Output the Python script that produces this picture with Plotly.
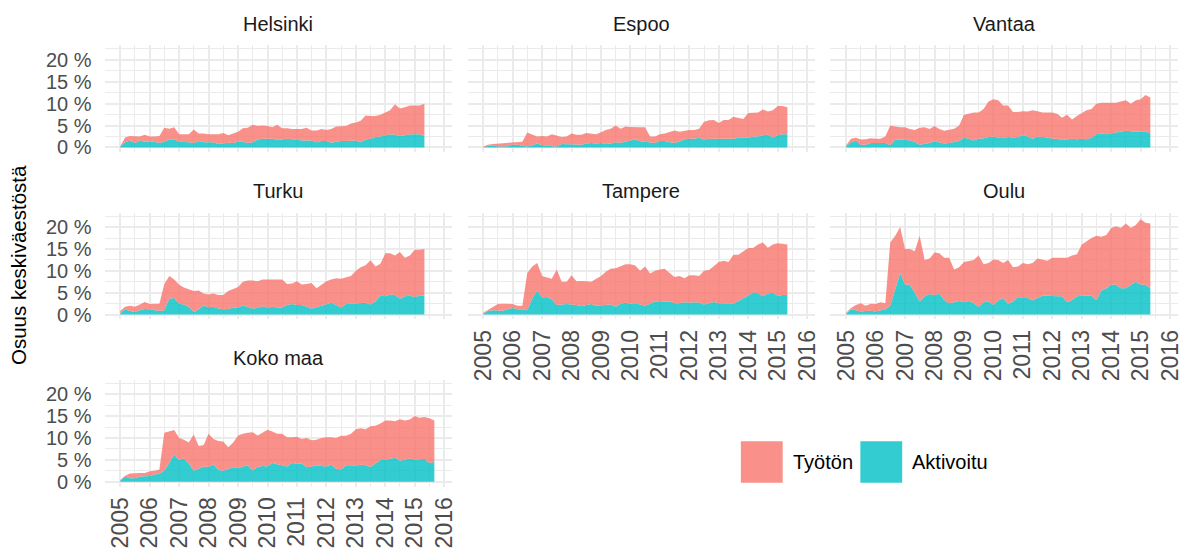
import plotly.graph_objects as go
import pandas as pd

# ---------------- data (share of mid-year population, %) ----------------
kunnat = ["Helsinki", "Espoo", "Vantaa", "Turku", "Tampere", "Oulu", "Koko maa"]
sarjat = ["Työtön", "Aktivoitu"]
vuodet = [str(v) for v in range(2005, 2017)]
paivat = pd.date_range("2005-01-01", periods=65, freq="2MS")

# total height of the stack (Työtön + Aktivoitu)
helsinki_yht = [0.3, 2.3, 2.6, 2.6, 2.5, 2.9, 2.5, 2.5, 2.6,
                4.5, 4.3, 4.6, 3.0, 3.0, 3.0, 4.1, 3.2, 3.2,
                3.0, 3.0, 3.0, 3.3, 2.8, 3.2, 3.6, 4.4, 4.5,
                5.2, 4.9, 5.0, 4.9, 4.6, 5.2, 4.4, 4.4, 4.2,
                4.2, 4.2, 4.5, 3.9, 3.9, 4.2, 4.0, 4.2, 4.8,
                4.8, 4.9, 5.5, 5.7, 6.1, 7.3, 7.2, 7.2, 7.5,
                8.0, 8.5, 9.9, 8.9, 9.2, 9.6, 9.6, 9.6, 10.0]
helsinki_akt = [0.2, 1.2, 1.6, 1.0, 1.6, 1.3, 1.3, 1.3, 1.0,
                1.3, 1.8, 1.8, 1.3, 1.3, 1.2, 1.0, 1.5, 1.2,
                1.2, 1.2, 0.8, 1.0, 1.1, 1.0, 1.3, 1.3, 1.0,
                1.2, 1.8, 2.0, 2.0, 2.0, 1.7, 1.8, 2.0, 1.9,
                1.9, 1.6, 1.6, 1.6, 1.2, 1.5, 1.5, 1.1, 1.3,
                1.5, 1.5, 1.5, 1.6, 1.2, 1.8, 2.0, 2.4, 2.5,
                2.7, 3.0, 2.9, 2.6, 2.8, 3.0, 3.0, 3.0, 2.7]

espoo_yht = [0.2, 0.6, 0.8, 0.9, 0.9, 1.0, 1.2, 1.3, 1.3,
             3.4, 2.9, 2.5, 2.6, 2.5, 3.0, 2.7, 2.4, 2.5,
             3.2, 2.9, 2.9, 3.3, 3.1, 3.0, 3.5, 4.0, 4.3,
             5.0, 4.3, 4.8, 4.7, 4.6, 4.6, 4.6, 2.5, 2.5,
             3.0, 3.2, 3.5, 3.9, 3.6, 3.8, 4.0, 4.0, 4.3,
             5.9, 6.2, 6.3, 5.6, 6.3, 6.3, 7.0, 6.7, 6.5,
             7.9, 8.0, 8.0, 8.7, 8.2, 8.5, 9.5, 9.5, 9.2]
espoo_akt = [0.1, 0.3, 0.5, 0.2, 0.2, 0.3, 0.6, 0.6, 0.4,
             0.2, 0.5, 0.9, 0.5, 0.5, 0.3, 0.2, 0.8, 0.8,
             0.8, 0.7, 0.6, 0.9, 1.0, 0.9, 1.0, 0.8, 0.9,
             1.2, 1.1, 1.4, 1.6, 1.8, 1.4, 1.3, 1.2, 1.0,
             1.5, 1.5, 1.2, 1.1, 1.3, 1.9, 2.0, 2.0, 2.2,
             1.8, 2.0, 2.0, 1.9, 2.0, 2.0, 2.0, 2.2, 2.2,
             2.2, 2.5, 2.5, 2.8, 2.9, 2.3, 2.8, 3.0, 3.0]

vantaa_yht = [0.5, 2.0, 2.2, 1.8, 1.9, 2.1, 2.0, 2.0, 2.5,
              5.0, 4.8, 4.6, 4.6, 4.2, 4.0, 4.5, 4.6, 4.2,
              4.9, 4.2, 3.8, 4.0, 4.3, 5.0, 7.5, 7.7, 8.0,
              8.0, 8.8, 10.5, 11.0, 10.8, 9.6, 9.6, 8.1, 8.1,
              8.3, 8.2, 8.5, 8.3, 8.0, 8.0, 8.0, 7.7, 6.8,
              7.5, 6.4, 7.2, 7.8, 8.5, 8.8, 10.0, 10.2, 10.2,
              10.1, 10.2, 10.5, 10.8, 10.0, 10.8, 11.0, 12.0, 11.4]
vantaa_akt = [0.3, 1.2, 1.6, 0.6, 0.6, 1.0, 1.0, 1.0, 1.0,
              0.5, 1.8, 1.8, 1.8, 1.6, 1.3, 0.6, 0.8, 1.0,
              1.4, 1.2, 0.9, 1.0, 1.2, 1.5, 2.2, 2.0, 1.6,
              2.0, 2.1, 2.4, 2.5, 2.2, 2.1, 2.4, 2.3, 2.4,
              2.8, 2.5, 2.0, 2.5, 2.4, 2.3, 2.0, 2.0, 1.7,
              1.8, 2.0, 1.9, 2.0, 1.9, 2.2, 3.0, 3.2, 3.0,
              3.2, 3.5, 3.6, 3.8, 3.7, 3.6, 3.6, 3.7, 3.2]

turku_yht = [0.8, 1.8, 2.0, 1.8, 2.3, 2.9, 2.4, 2.5, 2.5,
             7.0, 8.8, 8.0, 6.8, 6.2, 5.8, 5.4, 5.5, 4.8,
             4.6, 4.8, 4.5, 4.5, 5.4, 5.9, 6.3, 7.5, 7.8,
             7.8, 7.6, 8.0, 8.0, 8.0, 8.0, 8.0, 7.0, 7.1,
             7.6, 6.9, 7.0, 7.2, 6.0, 6.8, 7.6, 8.0, 8.3,
             8.2, 8.5, 8.8, 10.0, 10.8, 11.3, 12.4, 11.0, 11.6,
             14.0, 14.0, 13.5, 14.3, 13.0, 13.5, 14.8, 14.8, 15.0]
turku_akt = [0.3, 1.2, 0.8, 0.6, 1.0, 1.3, 1.2, 1.0, 0.8,
             1.0, 3.6, 3.8, 2.5, 2.3, 1.8, 0.6, 1.2, 2.1,
             1.7, 1.8, 1.4, 1.2, 1.3, 1.6, 1.6, 2.1, 1.8,
             1.4, 1.5, 1.9, 1.6, 1.8, 1.6, 1.6, 2.2, 2.4,
             2.2, 2.2, 1.8, 1.4, 1.7, 2.0, 2.4, 2.7, 2.2,
             1.6, 2.4, 2.5, 2.5, 2.7, 2.7, 2.3, 3.0, 4.3,
             4.2, 4.6, 4.5, 3.6, 4.2, 4.3, 4.0, 4.3, 4.3]

tampere_yht = [0.4, 1.0, 1.6, 2.4, 2.5, 2.4, 2.4, 2.0, 2.0,
               9.5, 11.0, 11.8, 8.8, 8.5, 8.2, 10.3, 7.5, 7.5,
               9.0, 7.6, 7.7, 7.6, 7.5, 8.2, 8.8, 9.8, 10.5,
               10.6, 11.0, 11.5, 11.5, 11.2, 10.0, 11.0, 9.4, 10.0,
               10.3, 10.5, 9.5, 8.6, 8.8, 8.3, 9.0, 9.0, 8.8,
               10.0, 10.2, 11.2, 12.0, 12.3, 12.0, 13.7, 13.7, 14.5,
               15.2, 15.2, 16.0, 16.5, 15.3, 16.0, 16.3, 16.2, 16.0]
tampere_akt = [0.2, 0.8, 1.0, 1.0, 0.9, 1.2, 1.5, 1.2, 1.2,
               1.0, 3.7, 5.5, 3.9, 4.0, 3.5, 2.2, 2.3, 2.4,
               2.3, 2.2, 1.9, 2.1, 2.4, 2.0, 2.1, 2.2, 2.3,
               1.8, 2.5, 2.7, 2.5, 2.6, 2.3, 2.0, 2.5, 3.0,
               2.9, 2.9, 3.0, 2.6, 2.6, 2.8, 2.7, 2.8, 2.7,
               2.3, 2.6, 2.9, 2.6, 2.6, 2.6, 2.5, 3.1, 3.8,
               4.3, 5.1, 4.9, 4.2, 4.8, 5.0, 4.3, 4.5, 4.5]

oulu_yht = [0.4, 1.5, 2.2, 2.6, 2.0, 2.5, 2.4, 2.8, 2.6,
            16.5, 18.0, 20.0, 15.0, 15.0, 14.5, 18.0, 12.5, 12.8,
            14.2, 14.0, 13.0, 13.0, 10.3, 10.8, 12.0, 12.2, 12.5,
            13.5, 11.5, 11.8, 12.6, 12.5, 11.8, 12.5, 10.8, 11.0,
            11.8, 11.5, 11.8, 12.8, 12.5, 12.3, 13.0, 13.0, 13.0,
            13.0, 13.5, 13.8, 16.0, 16.8, 17.5, 18.0, 17.8, 18.2,
            19.8, 20.2, 19.8, 20.8, 19.8, 20.5, 21.8, 21.0, 20.8]
oulu_akt = [0.2, 1.2, 1.0, 0.7, 0.8, 0.9, 0.7, 1.0, 1.2,
            2.0, 6.0, 9.5, 6.8, 6.8, 5.0, 3.0, 4.2, 4.7,
            4.4, 4.8, 3.3, 2.6, 2.8, 3.1, 2.8, 3.1, 2.6,
            1.8, 2.8, 3.0, 2.2, 3.2, 3.8, 2.4, 3.0, 4.0,
            3.8, 3.8, 3.3, 3.8, 4.3, 4.3, 4.2, 4.2, 4.2,
            2.8, 3.3, 4.2, 4.3, 4.3, 4.3, 3.3, 5.5, 6.0,
            6.9, 6.8, 6.0, 6.0, 6.8, 7.5, 6.9, 6.8, 6.0]

koko_maa_yht = [0.4, 1.4, 1.9, 2.0, 2.0, 2.0, 2.4, 2.5, 2.8,
                11.2, 11.5, 11.8, 10.0, 9.6, 9.0, 10.8, 8.2, 8.4,
                11.0, 9.8, 9.3, 9.2, 7.9, 9.0, 10.6, 11.0, 11.2,
                11.3, 10.6, 11.2, 11.9, 11.5, 11.0, 11.0, 10.2, 10.2,
                10.3, 9.8, 10.0, 9.5, 9.6, 10.0, 10.2, 10.2, 10.0,
                10.5, 10.5, 11.0, 12.0, 12.2, 12.0, 12.7, 12.8, 13.3,
                14.0, 14.0, 13.8, 14.3, 14.0, 14.2, 15.0, 14.6, 14.8,
                14.5, 14.0]
koko_maa_akt = [0.3, 1.2, 0.8, 0.8, 1.2, 1.2, 1.3, 1.6, 1.9,
                2.5, 4.5, 6.2, 5.0, 5.3, 4.2, 2.5, 3.0, 3.5,
                3.4, 4.0, 2.7, 2.5, 2.9, 3.3, 3.1, 3.5, 3.7,
                2.6, 3.4, 3.6, 3.5, 4.3, 4.0, 3.7, 3.5, 4.3,
                4.1, 4.2, 3.3, 3.5, 3.8, 3.6, 3.5, 3.9, 3.0,
                2.8, 3.8, 3.8, 3.7, 3.9, 3.8, 3.4, 4.3, 5.0,
                5.0, 5.3, 5.5, 4.8, 5.0, 5.3, 5.1, 5.1, 5.2,
                4.3, 4.5]

yhteensa = [helsinki_yht, espoo_yht, vantaa_yht, turku_yht, tampere_yht, oulu_yht, koko_maa_yht]
aktivoitu = [helsinki_akt, espoo_akt, vantaa_akt, turku_akt, tampere_akt, oulu_akt, koko_maa_akt]
y_ticks = [0, 5, 10, 15, 20]

# ---------------- styling / layout ----------------
W, H = 1187, 549
FONT = "Liberation Sans, Arial, sans-serif"
C_TYO = "rgba(248,118,109,0.8)"
C_AKT = "rgba(0,191,196,0.8)"
GRID = "#EBEBEB"
cols_px = [(105, 454), (469.5, 818.5), (834, 1183)]
rows_px = [(46, 154), (215, 323), (384, 492)]
x_range = ["2004-06-20", "2016-04-08"]
y_range = [-1.11, 23.3]


def px_x(p):
    return p / W


def px_y(p):
    return 1 - p / H


fig = go.Figure()
annotations = []
for i, (nimi, yht, akt) in enumerate(zip(kunnat, yhteensa, aktivoitu)):
    r, c = divmod(i, 3)
    n = i + 1
    xs = paivat[:len(akt)]
    sfx = "" if n == 1 else str(n)
    fig.add_trace(go.Scatter(x=xs, y=akt, mode="lines", line=dict(width=0, color=C_AKT),
                             fill="tozeroy", fillcolor=C_AKT, name=sarjat[1], showlegend=False,
                             xaxis="x" + sfx, yaxis="y" + sfx))
    fig.add_trace(go.Scatter(x=xs, y=yht, mode="lines", line=dict(width=0, color=C_TYO),
                             fill="tonexty", fillcolor=C_TYO, name=sarjat[0], showlegend=False,
                             xaxis="x" + sfx, yaxis="y" + sfx))
    x0, x1 = cols_px[c]
    y0, y1 = rows_px[r]
    bottom_of_col = (c == 0 and r == 2) or (c > 0 and r == 1)
    fig.layout["xaxis" + sfx] = dict(
        domain=[px_x(x0), px_x(x1)], range=x_range, type="date", anchor="y" + sfx,
        tickmode="array", tickvals=[v + "-01-01" for v in vuodet], ticktext=vuodet,
        showgrid=True, gridcolor=GRID, gridwidth=2,
        minor=dict(dtick="M6", tick0="2004-07-01", showgrid=True, gridcolor=GRID, gridwidth=1.2),
        zeroline=False, showline=False, ticks="",
        showticklabels=bottom_of_col, tickangle=-90, ticklabelstandoff=5,
        tickfont=dict(family=FONT, size=23, color="#4D4D4D"),
    )
    fig.layout["yaxis" + sfx] = dict(
        domain=[px_y(y1), px_y(y0)], range=y_range, anchor="x" + sfx,
        tickmode="array", tickvals=y_ticks, ticktext=[f"{v} %" for v in y_ticks],
        showgrid=True, gridcolor=GRID, gridwidth=2,
        minor=dict(tickmode="linear", dtick=2.5, tick0=0, showgrid=True, gridcolor=GRID, gridwidth=1.2),
        zeroline=False, showline=False, ticks="",
        showticklabels=(c == 0), ticklabelstandoff=12,
        tickfont=dict(family=FONT, size=20, color="#4D4D4D"),
    )
    annotations.append(dict(text=nimi, x=px_x((x0 + x1) / 2), y=px_y(y0 - 22), xref="paper", yref="paper",
                            xanchor="center", yanchor="middle", showarrow=False,
                            font=dict(family=FONT, size=20, color="#1A1A1A")))

# y-axis title
annotations.append(dict(text="Osuus keskiväestöstä", x=px_x(18), y=px_y(268), xref="paper", yref="paper",
                        xanchor="center", yanchor="middle", textangle=-90, showarrow=False,
                        font=dict(family=FONT, size=20.5, color="#000000")))

# legend (drawn manually to match the large key squares)
shapes = []
leg = [(sarjat[0], C_TYO, 744), (sarjat[1], C_AKT, 864)]
for lab, col, kx in leg:
    shapes.append(dict(type="rect", xref="paper", yref="paper",
                       x0=px_x(kx), x1=px_x(kx + 42), y0=px_y(488), y1=px_y(446),
                       fillcolor=col, line=dict(width=0)))
    annotations.append(dict(text=lab, x=px_x(kx + 50), y=px_y(467), xref="paper", yref="paper",
                            xanchor="left", yanchor="middle", showarrow=False,
                            font=dict(family=FONT, size=20, color="#000000")))

fig.update_layout(width=W, height=H, margin=dict(l=0, r=0, t=0, b=0),
                  paper_bgcolor="white", plot_bgcolor="white",
                  annotations=annotations, shapes=shapes, showlegend=False)

fig.write_html("out.html", config={"displayModeBar": False},
               post_script="document.body.style.margin='0px';document.body.style.overflow='hidden';")
